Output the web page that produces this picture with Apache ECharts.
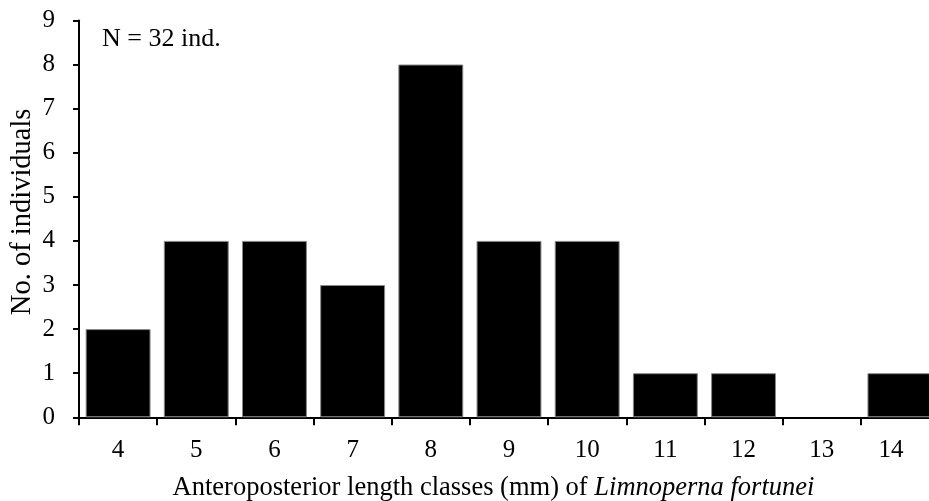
<!DOCTYPE html>
<html>
<head>
<meta charset="utf-8">
<script src="https://cdn.jsdelivr.net/npm/echarts@6/dist/echarts.min.js"></script>
<style>html,body{margin:0;padding:0;background:#fff;overflow:hidden;}#c{width:929px;height:501px;}</style>
</head>
<body>
<div id="c"></div>
<script>
const categories = ['4','5','6','7','8','9','10','11','12','13','14'];
const counts = [2,4,4,3,8,4,4,1,1,0,1];
const yTicks = [0,1,2,3,4,5,6,7,8,9];
const xTitle = 'Anteroposterior length classes (mm) of ';
const xTitleItalic = 'Limnoperna fortunei';
const yTitle = 'No. of individuals';
const note = 'N = 32 ind.';

const font = 'Liberation Serif';
const lastCat = categories[categories.length - 1];
const chart = echarts.init(document.getElementById('c'), null, {renderer:'canvas'});
chart.setOption({
  animation:false,
  backgroundColor:'#fff',
  grid:{left:79, top:20.4, bottom:83.7, width:860, containLabel:false, outerBoundsMode:'none'},
  xAxis:{
    type:'category',
    data:categories,
    name:'{n|' + xTitle + '}{i|' + xTitleItalic + '}',
    nameLocation:'middle',
    nameGap:57,
    nameMoveOverlap:false,
    nameTextStyle:{padding:[0,31,0,0], rich:{
      n:{fontFamily:font, fontSize:26.5, color:'#000'},
      i:{fontFamily:font, fontSize:26.5, color:'#000', fontStyle:'italic'}
    }},
    axisLine:{lineStyle:{color:'#000', width:2}},
    axisTick:{show:true, interval:0, length:8, lineStyle:{color:'#000', width:2}},
    axisLabel:{
      interval:0, hideOverlap:false,
      fontFamily:font, fontSize:25, color:'#000', margin:21,
      formatter: v => v === lastCat ? '{s|' + v + '}' : v,
      rich:{s:{fontFamily:font, fontSize:25, color:'#000', padding:[0,18,0,0]}}
    },
    splitLine:{show:false}
  },
  yAxis:{
    type:'value',
    min:yTicks[0], max:yTicks[yTicks.length-1], interval:1,
    name:yTitle,
    nameLocation:'middle',
    nameGap:42,
    nameMoveOverlap:false,
    nameTextStyle:{fontFamily:font, fontSize:28.5, color:'#000', padding:[0,0,0,14]},
    axisLine:{show:true, lineStyle:{color:'#000', width:2}},
    axisTick:{show:true, length:6, lineStyle:{color:'#000', width:2}},
    axisLabel:{fontFamily:font, fontSize:25, color:'#000', margin:24},
    splitLine:{show:false}
  },
  graphic:[{
    type:'text', left:102, top:26,
    style:{text:note, font:'26px "Liberation Serif"', fill:'#000'}
  }],
  series:[{
    type:'bar',
    data:counts.map(v => ({value:v, itemStyle:{borderWidth: v > 0 ? 1 : 0}})),
    barCategoryGap:'17%',
    itemStyle:{color:'#000', borderColor:'#888', borderWidth:1}
  }]
});
</script>
</body>
</html>
